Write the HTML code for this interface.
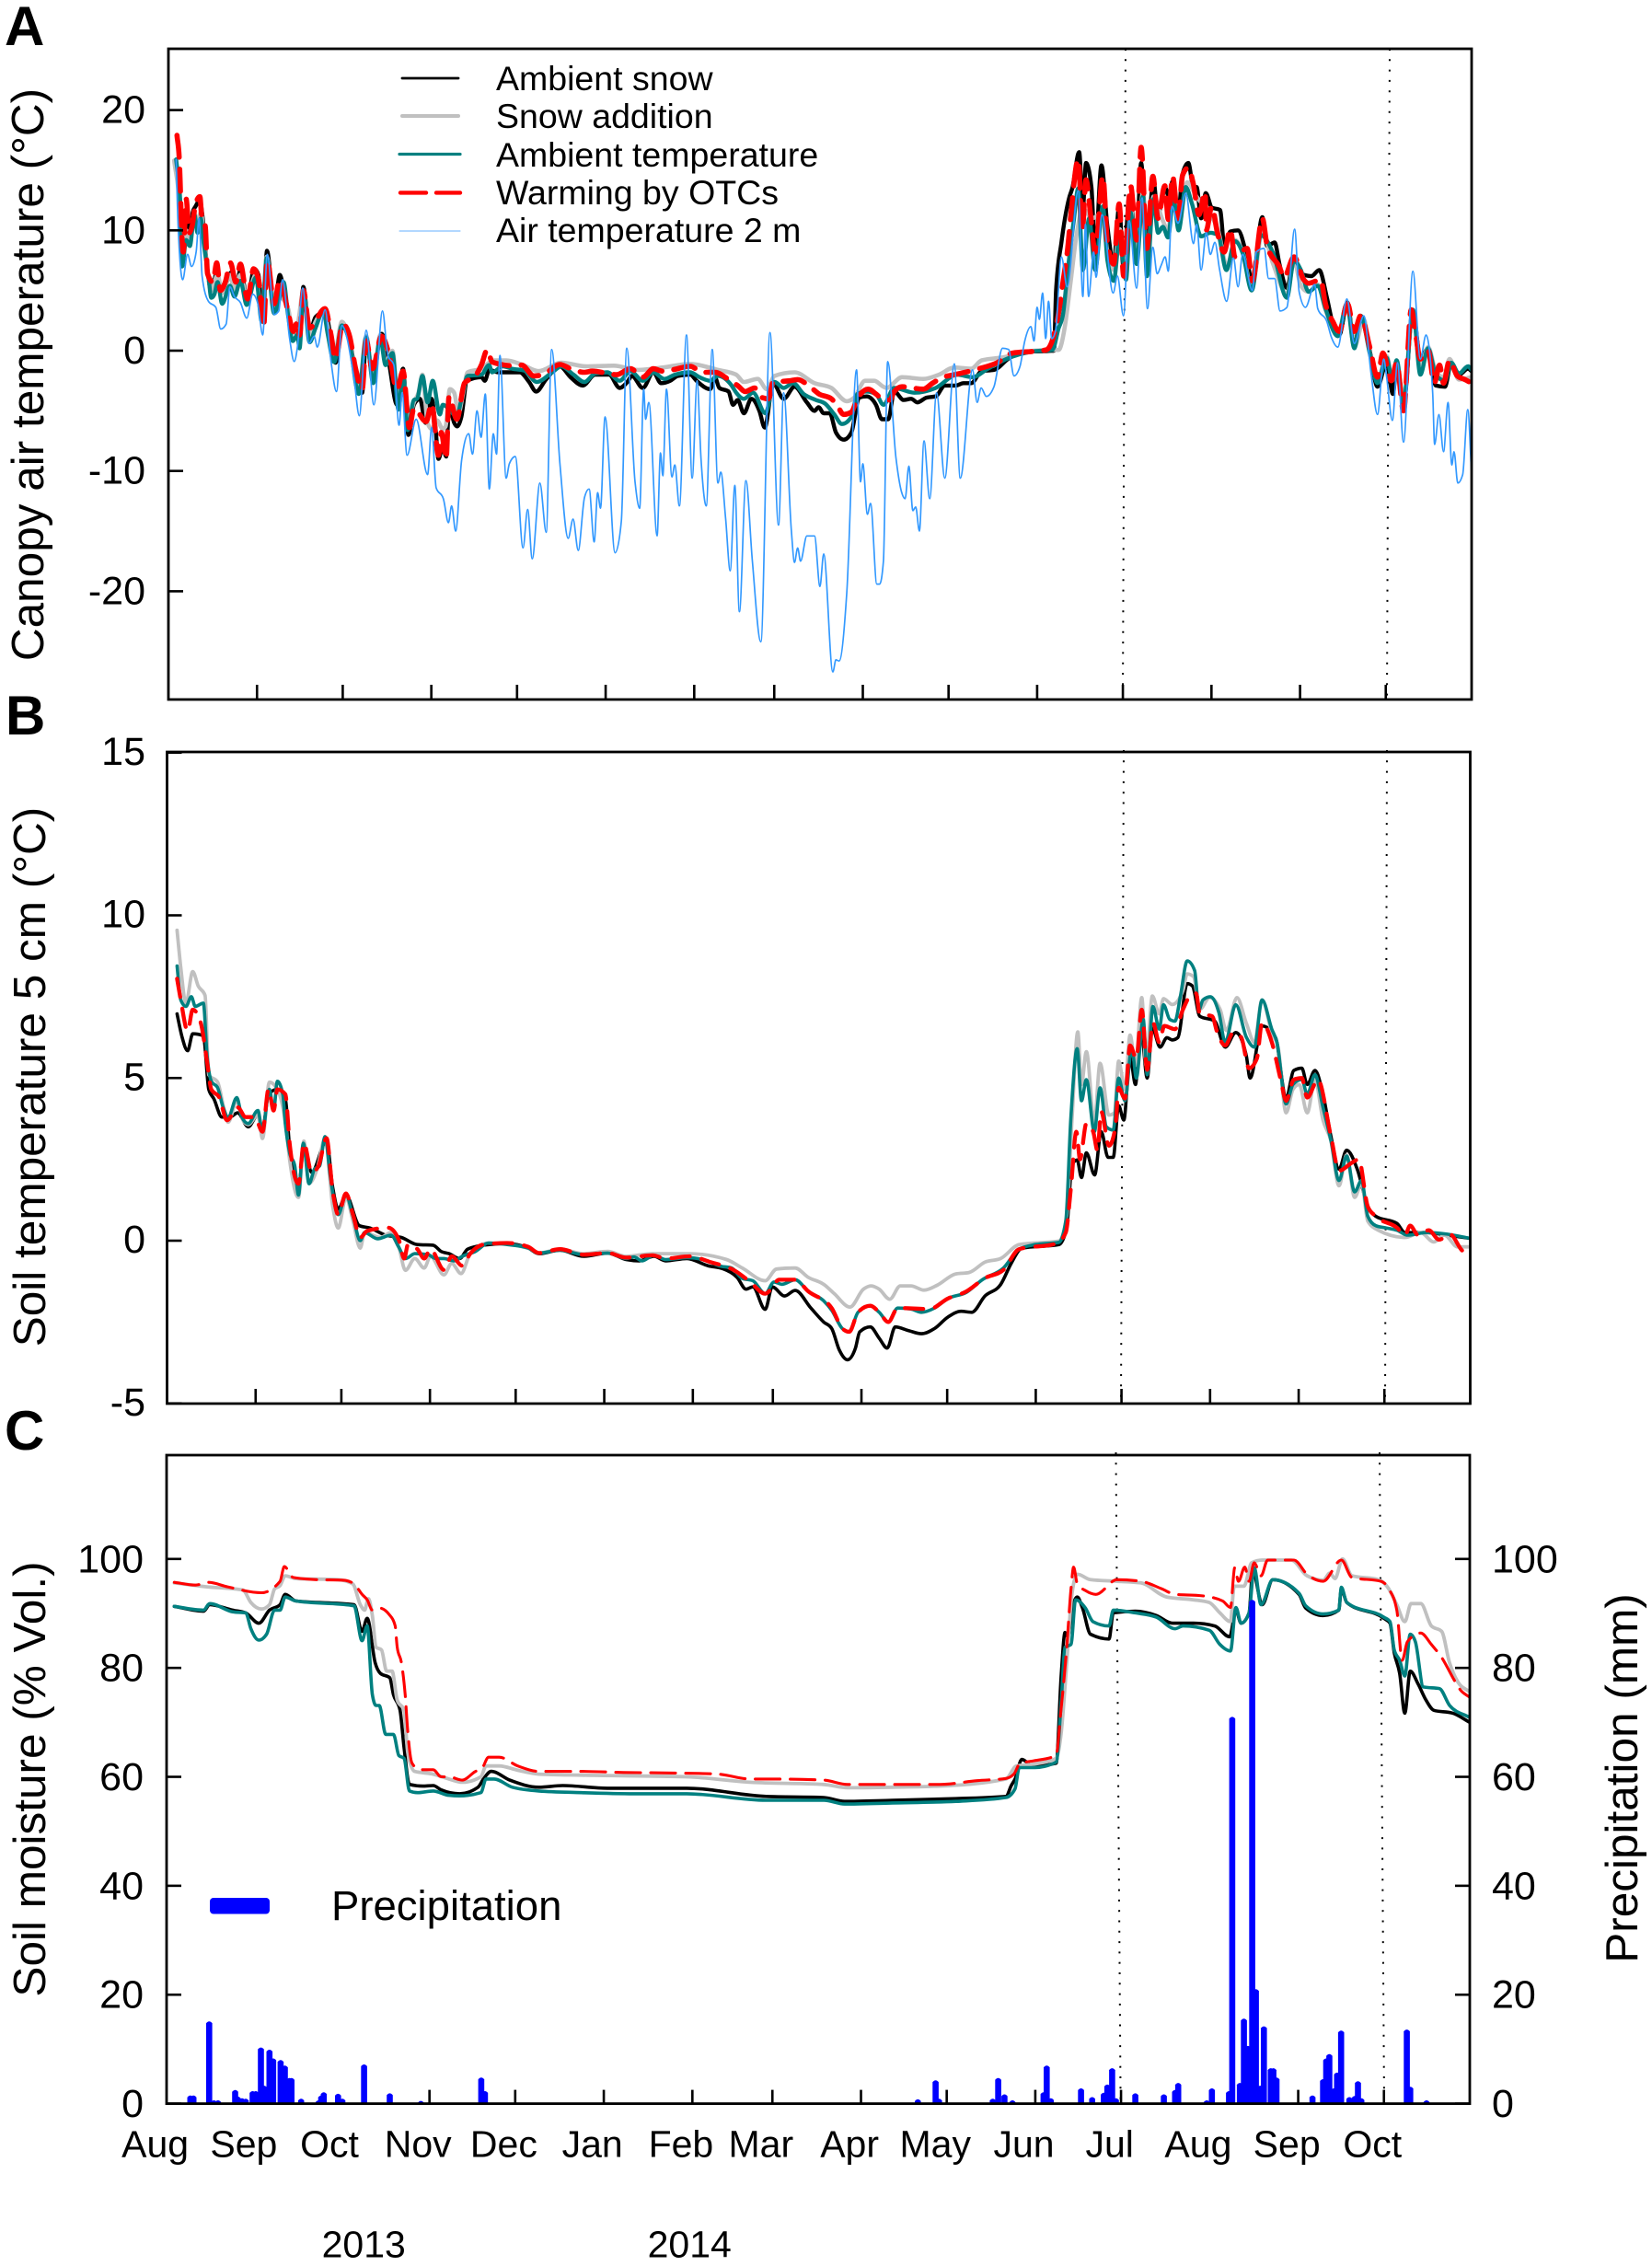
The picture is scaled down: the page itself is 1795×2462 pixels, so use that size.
<!DOCTYPE html>
<html lang="en">
<head>
<meta charset="utf-8">
<title>Canopy air temperature, soil temperature and soil moisture</title>
<style>
html,body{margin:0;padding:0;background:#fff}
svg{display:block}
text{font-family:"Liberation Sans",Arial,sans-serif;fill:#000}
</style>
</head>
<body>
<svg id="chart" xmlns="http://www.w3.org/2000/svg" width="1795" height="2462" viewBox="0 0 1795 2462"></svg>
<script>
/* ---------- shared axis data ---------- */
const monthNames=["Aug","Sep","Oct","Nov","Dec","Jan","Feb","Mar","Apr","May","Jun","Jul","Aug","Sep","Oct"];
const monthDays=[0,31,61,92,122,153,184,212,243,273,304,334,365,396,426];
const tickDays=[31,61,92,122,153,184,212,243,273,304,334,365,396,426];
const tickDaysC=[92,122,153,184,212,243,273,304,334,396,426];
const yearLabels=["2013","2014"];
const yearDays=[69,183];
const ticksA=[20,10,0,-10,-20];
const ticksB=[15,10,5,0,-5];
const ticksC=[100,80,60,40,20,0];

/* ---------- Panel A: canopy air temperature ---------- */
const airDaysA=[2.7,3.4,5,6.7,8.1,9.7,10.7,11.8,14,16.6,
18.3,20.2,21.5,23.1,25.2,27.4,29.5,31.3,33,34.6,
37,38.6,39.9,42.4,44,45.1,47,49.2,51,52.1,
54.8,56.9,58.8,60.7,64.9,66.8,69.2,71.9,74.9,76.8,
78.9,80.7,81.8,83.5,86.7,90.7,92.1,93.7,96.2,98,
99.1,100.5,102.6,105.1,106.4,108,109.4,110.9,112.3,113.7,
114.8,116,118.2,119.3,121.4,124.1,125.7,127.3,130,132.2,
134.1,137,139.9,141.6,143.4,145.6,147.2,149,150.2,151.2,
152.8,156.3,158.5,160.4,163.3,164.9,166.3,167,168.1,171,
172.2,173,174.3,176.2,177.2,178.8,181.3,183.3,185,186.4,
188.2,190.3,192.3,193.3,195,196.6,198.2,199.8,202.1,204.3,
207.3,210.5,213.5,215.3,218,219.1,220.2,221.2,223.4,226.1,
228,229.3,232.5,233.6,234.7,237.4,240.8,242.2,243,244.6,
245.7,247.9,248.9,250.2,251.7,254.6,256.5,257.8,259.1,260.5,
261.5,262.8,264.4,266.4,268.8,271.7,275,277.1,281.4,283,
284.4,286.2,288.9,291.9,294,295.9,298,299.7,301.8,302.9,
304,304.8,305.9,307,308,309.1,310.4,312.5,314.5,318.4,
320,320.9,322,323.8,324.6,326.7,330.6,332.1,334.2,336.2,
338.8,340.7,342.6,344.5,346,347.4,348.8,349.9,351.2,353.3,
356,358.7,359.8,361.4,363.2,364.6,366.2,367.8,370.3,372.7,
374.3,375.9,379.3,380.7,383.4,385,387.1,389,391.4,394.1,
395.7,397.9,401.1,402.2,405.4,407,409.2,412.4,415,418.3,
420.9,423.1,425.3,426.3,428.3,430.1,432.2,435.5,438.1,440.1,
442.4,443.1,444.6,446.2,447.8,449.1,449.9,451.2,452.9,454.7,456];
const airValsA=[15.9,10.3,5.9,8,7,8.2,11,6.2,4.1,3.6,
1.8,2.2,5.3,4.5,4,2.7,4.7,3.9,1.3,8,
3,3.3,5.9,1,-.9,.2,5.2,.6,1.2,.3,
3.4,-.9,-3.4,2.1,-2.2,-5.4,1.7,-4.5,3.3,-.4,
-1.2,-6.2,-3.5,-8.7,-5.7,-10.3,-6.4,-11.4,-12.3,-14.3,
-12.9,-15,-9.1,-6.9,-8.6,-5,-7.2,-3.6,-11.5,-6.9,
-8.6,-.4,-10.6,-9.4,-8.8,-16.4,-13.2,-17.3,-11,-15.1,
.1,-9.4,-15.6,-14,-16.6,-12.2,-11.5,-15.9,-11.8,-13.1,
-5.5,-16.8,-14.2,.2,-10.9,-13.1,-3.2,-5.7,-4.3,-15.4,
-8.5,-10.4,-3.2,-10.5,-9.5,-12.9,1.3,-10.6,-2.5,-9.1,
-12.9,.1,-11,-10.1,-14,-18.3,-11.2,-21.7,-10.8,-17.4,
-24.2,1.5,-14.5,-3.5,-15,-17.6,-16.4,-17.5,-15.4,-15.4,
-19.6,-16.9,-26.7,-25.7,-25.8,-20.1,-1.6,-10.9,-9.4,-13.6,
-12.7,-19.4,-19.4,-17.5,-.9,-8.9,-11.7,-12.3,-9.6,-13.3,
-13,-15,-7.5,-12.3,-3.5,-10.6,-1.1,-10.6,-1.6,-4.3,
-3.1,-3.8,-3,.2,.1,-2.1,-1.3,.84,2,.8,
3.6,2.6,4.8,1,4.1,1,1.6,7.8,5.3,13.3,
4.5,10.5,4.5,8.2,6.1,11.3,4.8,6.2,2.9,10.8,
5.2,12.7,3.5,8.6,6.4,7.1,7.8,6.6,12,10.6,
13.1,8.9,10.5,6.7,9.8,8,9,6.8,4.1,7.7,
5.3,8,5,8.2,8.5,6,6,3.3,3.6,10.1,
4.9,3.6,5.5,3.5,2.4,1.1,.3,4.3,.6,2.9,
-2,-5.3,-.7,-2.2,-5.8,-1,-7.6,6.6,-.7,1.3,
-3.5,-7.8,-5.3,-8.4,-4.3,-9.5,-8.4,-11,-10.3,-4.9,-10.1];

const tealDaysA=[2.7,4.1,4.8,6.2,7.5,9.1,10.2,11.3,12.3,14,
15,16.1,17.2,18.8,21.5,23.1,25.2,27.4,30.6,32.7,
34.4,37,38.6,40.3,41.9,43.5,45.1,45.9,47.2,49.4,
51.5,54.2,55.8,58,60.7,63.3,66.6,69.2,71.7,74.1,
76,78.4,80.5,82.1,83.7,85.9,87,88.9,90.7,92.5,
95,96,100.9,103,104.7,109.5,112.2,113.3,117,120.3,
124.6,128.9,134.3,137.5,141.8,145.6,149.3,153.6,157.9,161.7,
166,169.7,173.5,177.2,182.6,185.8,189.6,192.3,197.1,198.7,
201.4,204.6,208.9,212.1,215.3,218.6,222.3,226.6,229.8,233,
235.7,239,241.1,244.3,247.6,250.2,254,261,268.5,276,
281.4,286.8,293.2,302.9,309.3,311.5,313.1,314.5,316.8,318.4,
320,322.2,324.3,327,328.6,330.8,332.9,335.1,336.7,338.8,
341,342.4,344.7,346.3,348,349.8,351.7,353.5,356,358.2,
361.4,364.6,367.3,370.2,373.2,375.9,379.1,382.3,386.6,391.4,
393.9,396.3,399,402.2,404.9,409.2,412.4,415,417.2,420.4,
423.1,426.3,428.3,429.8,432.2,435.5,438.1,440.8,443.5,446.7,
448.9,451.6,454.8,456];
const tealValsA=[15.9,12.6,7,9.2,8.7,11.3,9.8,11,9,6.2,
4.4,4.7,5.7,3.9,5.4,4.5,5.8,3.8,6.1,2.4,
7.7,3.1,4.1,5.7,2.9,.8,1.3,.2,4.9,.7,
1.9,3.3,1.3,-.95,2.1,.8,-3.6,1.1,-2.7,1.1,
-1.2,-.2,-4.9,-1.7,-6.6,-4.1,-4,-2.1,-4.3,-2.5,
-5.3,-4.5,-5.4,-3.5,-2.1,-2,-1.2,-1.8,-1.3,-1.5,
-1.66,-2.6,-1.8,-1.3,-2,-2.6,-1.9,-1.8,-2.5,-1.7,
-2.5,-1.8,-2.35,-2,-1.8,-2.2,-2.5,-2.1,-2.9,-3.5,
-4,-3.5,-5.2,-2.6,-3.1,-2.7,-3.6,-4.1,-4.4,-5.3,
-6.1,-5.5,-3.6,-3.4,-3.6,-4.5,-3.1,-3.5,-3.1,-2,
-2.2,-1.5,-.7,-.05,.06,1.85,3.1,6.2,10.8,13.5,
6.7,11,6.7,12,7.5,5.8,9.5,5.9,11.5,7.2,
12.8,6.2,12.6,9.8,10.3,9.4,12.7,10,13.6,12.2,
9.5,9.8,9.6,6.7,9.1,8.1,5,9.6,8.1,4.4,
7.5,6.7,4.9,5.4,3.5,1.2,3.9,.2,2.9,-.2,
-2.7,-.6,-2.5,-.8,-4.3,3.4,-2,.2,-2,-2.5,
-1,-1.9,-1.3,-1.6];

const redDaysA=[3,3.8,4.1,4.5,5.2,6.2,7.3,8.4,9.4,11,
11.6,12.9,13.7,15.6,16.9,18.2,19.9,21.7,23.6,25.2,
27.7,29.8,31.7,33.3,34.6,37,38.9,39.9,41.7,43.8,
45.1,45.9,47.2,49.4,54.8,56.9,58.5,61,63.3,65.5,
67.8,69.2,71.4,74.6,77.3,80,82.1,84.3,85.9,90.2,
92.1,94.5,95.5,97.2,98.2,100.9,103.6,107.4,109.5,111.6,
113.3,120.3,123.6,127.9,131.1,137,140.7,145.6,148.3,156.8,
161.7,166,169.7,172.9,176.2,182.6,186.9,191.2,196.6,199.2,
201.9,205.1,207.8,210,211.6,217.5,220.2,224.5,227.7,232,
234.1,236.3,239,241.1,244.9,247.6,249.7,252.4,254,256.7,
264.2,267.4,271.2,275,283.6,290,295.4,302.9,307.2,309.3,
312,313.1,314.7,315.8,318.4,319.8,321.1,322.7,324.3,327,
328.6,330.8,332.7,334.3,336.7,338.8,340.4,342.4,344.5,346.3,
348.7,349.9,351.4,353.3,354.9,356.9,358.7,360.6,362.8,363.2,
365.1,367.1,369.4,371.6,373.2,377.5,379.3,382.8,384.5,388.8,
390.4,393.9,397.3,399,403.2,404.9,407.5,409.7,412.6,415,
417.2,420.4,423.1,425,428,429.8,432.2,434.9,436.5,438.1,
440.8,443,444.8,446.2,448.3,451,453.7,456];
const redValsA=[17.9,15.9,14.1,10.8,8.2,12.6,9.8,10.5,12.1,12.8,
11.3,10.3,6.4,5.7,7.3,5,5.7,7.3,5.7,7.2,
4.3,6.8,5.7,2,7.5,3.9,5.9,5.3,3.4,1.6,
2.4,1.3,5,1.9,3.5,1.3,-.7,2.2,1.3,-1.5,
-3.25,.8,-1.5,1.2,-.4,-3.25,-1.7,-6.4,-4.8,-5.9,
-4.4,-8.7,-6.8,-9,-3.8,-5.7,-2.7,-2.1,-1.2,.07,
-.95,-1.25,-1.2,-2.1,-2,-1.15,-1.5,-1.8,-1.7,-2,
-1.5,-2.2,-1.5,-1.7,-1.6,-1.3,-1.8,-1.8,-2.5,-2.9,
-3.4,-3.1,-3.9,-4,-2.6,-2.5,-2.4,-3,-3.6,-4,
-4.6,-5.3,-5.1,-4,-3.2,-3.6,-4,-4.1,-3.4,-3,
-3.2,-2.7,-2.2,-2,-1.5,-1,-.2,-.05,.07,.84,
3.9,5.8,8.5,11.3,15.9,10,14.2,11.3,8.2,14.5,
9,7.2,12.2,6.2,13.7,9.2,16.9,8.5,14.5,11,
13.7,10.9,14.5,11,14.6,15.2,13.8,11.3,13.2,10,
12,9.8,8.2,10.1,7.8,8.5,5.8,11,8.7,6.95,
6.1,7.8,5.9,5.6,5.9,3.9,2.4,1.6,3.9,1.6,
2.9,.3,-2.2,-.2,-2.5,-1,-5,3.4,1.3,-.7,
0,-2.7,-1.2,-2.7,-.8,-2.1,-2.4,-2.7];

const blackDaysA=[2.7,4.5,5,6.2,7.5,8.5,9.5,11,12,13.5,
15,17,18.5,20,22,24,25.2,27.7,30,31.5,
33,34.5,37,39,40,41.7,43.8,45,46,47.2,
49.4,51.5,54.8,56.9,58.5,61,63.3,66,67.8,69.2,
71.4,74.6,77,80,82.1,84,85.9,88,90,92.1,
93.5,94.5,96,97.2,98.2,100,101,102.5,104.5,109.6,
110.7,112.3,115.5,123,126.2,128.7,132.1,137,140.7,145,
149.3,154.2,157.9,160.6,162.2,166,169.7,172.4,175.6,178.3,
182.6,184.8,189.6,191.2,192.8,196,197.6,199.2,201.4,204,
206.8,208.7,211.6,215.3,219.1,223.4,226.1,227.5,229.3,231.4,
233.6,236.3,239,241.7,244.3,247.6,249.7,251.9,254,257.3,
259.9,262.1,265.3,268.5,271.7,275.5,278.2,280.9,284.6,288.9,
294.3,299.7,309.9,310.6,312.5,315.2,316.3,318.7,320,321.1,
323,324.3,326.5,328.6,330.8,332.7,334.3,336.2,338.8,340.4,
342.4,344.7,346.3,348.7,350.1,351.4,353.3,354.9,356.9,358.7,
359.8,361.4,363,365.1,368,369.6,371.6,374.3,377,379.3,
382.8,384.5,387.1,388.8,391.4,393.9,396.3,400,402.7,405.4,
407.5,409.7,412.6,415,417.2,420.4,423.1,426.3,428.5,429.8,
432.2,435.5,438.1,440.8,443.5,446.7,448.9,451.6,454.8,456];
const blackValsA=[15,11,7.5,11,9.5,11.5,12,12.5,11,7,
5,6.5,5,5.5,6.5,5.5,6.8,4.2,6.8,6.3,
2.5,8.3,3.5,6.3,5.5,3.5,1.5,2.3,1,5.3,
1.5,2.8,3.2,1,-1,2.2,1,-2.5,-3.5,1.2,
-2,1.4,-.8,-4.5,-1.5,-7,-4.5,-4,-6,-4,
-6.5,-9,-8,-8.8,-4.5,-6,-6.3,-5.5,-2.5,-2.2,
-2.5,-1.6,-1.8,-1.8,-2.6,-3.4,-2.4,-1.3,-2.2,-2.9,
-2,-2,-3.1,-2.6,-2.1,-3.1,-1.8,-2.7,-2.5,-2.1,
-2,-2.5,-3.2,-2.2,-3.1,-3.4,-4.5,-4.1,-5.2,-4,
-5,-6.4,-2.7,-4,-3,-4.3,-5,-4.7,-5.2,-5.2,
-6.8,-7.4,-6.8,-3.9,-3.8,-4.5,-5.7,-5.7,-3.4,-4.1,
-4,-4.3,-3.9,-3.8,-2.9,-2.9,-2.7,-2.7,-1.7,-1.6,
-.6,-.1,0,4.9,9,12.7,13.5,16.5,11.8,15.6,
13.6,8,15.4,10.3,7.2,12,6.7,12.8,9.2,15.6,
9,14.1,11.3,13.6,12.8,14.1,11.3,14.7,15.6,13.6,
13.6,11,13.1,11.9,11.7,8.5,9.9,10,8.2,5.7,
11.1,8.7,9,7.2,5.2,7.7,6.4,6.2,6.7,4.4,
2.2,1.3,4,.3,2.9,0,-3,-1,-3.6,-1.2,
-4.5,3.4,-.7,.2,-2.9,-3,-1,-2,-1.5,-1.7];

const grayDaysA=[2,4,5,6.2,7.5,9,10.2,11.3,13,15,
17.2,18.8,21.5,23.1,25.2,27.4,30.6,32.7,34.4,37,
38.6,41.9,43.5,45.1,47.2,49.4,51.5,54.2,58,60.7,
63.3,66.6,69.2,71.7,74.1,76,78.4,80.5,82.1,83.7,
85.9,87.5,88.9,90.7,92.1,94,96,97,98.5,100,
101.5,103,104.7,109.5,113.9,118.2,123.6,129.5,137.5,146.1,
155.8,164.4,172.9,182.6,192.3,198.7,201.4,206.2,209.4,212.1,
219.1,226.1,232,237.4,240,243.8,247,250.2,251.3,256.7,
264.2,269.6,275,280.9,284.6,292.1,302.9,310.4,311.5,313.6,
315.8,317.9,320,323.3,326.5,328.6,330.8,332.9,335.1,336.7,
338.8,341,342.4,344.7,348,349.8,351.7,353.5,356.5,359.8,
363,367.3,370.5,373.2,375.9,379.1,382.8,386.6,391.4,393.9,
396.3,399,402.2,404.9,409.2,412.4,415,418.3,420.4,423.1,
426.3,428.3,429.8,432.2,435.5,438.1,440.8,443.5,446.2,448.3,
451.6,456];
const grayValsA=[15.8,12,7.5,10,9,11.5,10.5,11.5,8,5,
6.3,4.8,6.3,5,6.3,4.5,6.3,2.8,7.8,3.5,
4.5,3.5,1.5,2,4.9,1.2,2.4,3.3,-.5,2.4,
.9,-3.4,1.2,-2.5,1.3,-1,0,-4.5,-1.7,-6,
-4.3,-3.5,-2,-6,-6.5,-5.8,-6.5,-6.3,-3.2,-3.5,
-5.2,-3.7,-1.8,-1.5,-.8,-.8,-1.15,-1.7,-1,-1.3,
-1.25,-1.6,-1.4,-1.1,-1.6,-2,-2.6,-2.35,-3.2,-2.1,
-1.8,-2.7,-3.1,-4.2,-3.9,-2.5,-2.5,-3,-3.1,-2.2,
-2.35,-2,-1.4,-1.5,-.8,-.56,0,.07,.06,1.85,
5.9,9.8,11.8,11,11.4,8.2,6.7,10.1,6.2,11.8,
7.7,13.1,6.7,12.8,10.8,10,13,10.3,14,12.8,
11.8,10,7,9.2,8.2,5.2,9.8,7.2,4.7,7.5,
5.4,4.9,5.5,3.4,1.3,3.9,.3,2.6,-.2,-2.5,
-.45,-2.2,-.8,-4,3.4,-1.5,.3,-1.7,-2.2,-.7,
-2.4,-2.2];

/* ---------- Panel B: soil temperature 5 cm ---------- */
const blackDaysB=[3.5,5.3,7.2,9,12.7,14.6,16.4,19.2,22,24.7,
28.4,31.8,33.4,35.5,38.6,41.4,42.9,46,47.9,50.6,
55.8,58,59.9,62.6,67.3,71,76.5,82,87.6,93.1,
95.9,98.7,102.4,105.2,110.7,119,126.4,130.1,137.5,145.8,
154.2,160.6,165.2,170.4,174.5,181.9,189.3,194.8,199.5,202.6,
205,209.3,211.8,216.1,219.8,225.3,229.8,232.6,235.3,238.1,
240.9,242.4,246.1,249.2,252,254.8,259.4,264,268.6,273.2,
277.9,281.6,286.2,291.7,295.4,299.1,312.1,314.8,316.7,318.5,
320,321.7,324.6,326.9,329.3,331.1,333,334.8,337,338.9,
340.7,343,344.8,347.5,349.9,351.8,353.7,357,358.8,361.4,
366.6,370.3,374,377.7,379,383.2,387.9,391.6,394.3,397.1,
399,401.7,404.5,407.3,410.1,412.8,416.5,420.2,423,430.4,
433.2,440.6,448,456];
const blackValsB=[6.97,6.24,5.84,6.36,6.3,4.65,4.36,3.8,3.8,3.93,
3.5,3.86,3.42,4.5,4.65,4.36,2.85,1.62,2.92,2.1,
3.06,1.62,.97,1.4,.46,.39,.17,.1,-.12,-.14,
-.33,-.4,-.55,-.26,-.14,-.09,-.23,-.4,-.29,-.48,
-.38,-.58,-.62,-.48,-.62,-.55,-.77,-.87,-1.13,-1.49,
-1.42,-2.11,-1.42,-1.7,-1.53,-2.07,-2.5,-2.7,-3.37,-3.66,
-3.3,-2.8,-2.65,-3,-3.3,-2.65,-2.76,-2.86,-2.7,-2.35,
-2.17,-2.2,-1.7,-1.35,-.7,-.23,-.12,.39,2.34,2.48,
1.94,2.7,2.02,3.35,2.56,2.56,4.15,3.71,5.66,4.8,
6.68,5,6.53,5.95,6.24,6.17,6.24,7.9,7.83,6.9,
6.75,5.95,6.4,5.67,5,6.6,6.24,4.37,5.23,5.3,
4.8,5.23,4.5,3.2,2.2,2.78,2.2,1.05,.75,.53,
.25,.25,.17,.07];

const grayDaysB=[3.5,4.8,6.6,9,10.9,13.3,14.6,17.7,20.1,21.4,
24.4,26.6,28.4,31.8,33.4,35.8,38.6,41.4,42.9,46,
47.9,49.7,52.5,55.3,58,59.9,62.6,65.1,67.6,69.1,
74.7,78.4,81.1,83.4,86.7,90,92.2,96.9,99.6,102.9,
106.1,112.6,126.4,130.1,137.5,145.8,154.2,160.6,169.9,182.8,
195.8,201.3,209.3,213.3,219.8,224.4,229.8,233.5,239,243.7,
246.4,249.2,252.9,256.6,260.3,264.9,269.5,276,280.6,286.2,
291.7,298.2,312.1,314.8,316.7,318.7,320,321.7,324.5,326.5,
329.6,331.5,333,335.2,337,338.9,341.1,342.6,344.8,347.2,
348.7,351.8,355.5,357,359.2,361.4,364.8,368.5,370.7,374.4,
377.7,380.5,383.2,386.6,388.8,391.6,394,396.2,399,401.7,
404.5,407.3,410.1,412.8,415.6,418,420.2,423.9,433.2,438.7,
443.3,447,451.6,456];
const grayValsB=[9.54,8.4,7.3,8.27,7.83,7.54,5.1,4.87,4,3.64,
4.3,3.7,3.57,3.86,3.14,4.87,4.65,3.64,2.49,1.33,
3.06,1.76,2.2,3.14,1.04,.39,1.33,.6,-.23,.25,
.1,.25,-.19,-.91,-.55,-.84,-.48,-1.05,-.7,-1.01,
-.4,-.07,-.23,-.38,-.26,-.4,-.33,-.48,-.4,-.4,
-.58,-.84,-1.23,-.87,-.84,-1.13,-1.34,-1.63,-2.04,-1.49,
-1.39,-1.49,-1.8,-1.39,-1.39,-1.52,-1.37,-1.02,-.98,-.66,
-.55,-.12,-.01,.75,3.79,6.42,4.8,5.81,3.64,5.45,
3.86,3.93,5.52,4.65,6.32,5.38,7.47,5.38,7.52,6.97,
7.44,7.26,7.69,8.2,8.12,7.11,7.47,7.11,6.46,7.47,
6.68,6.1,7.4,6.39,5.95,3.93,4.65,4.8,3.93,4.95,
3.71,3.06,1.69,2.63,1.33,1.76,.6,.32,.1,.25,
-.04,.17,-.19,-.19];

const tealDaysB=[3.5,4.8,6.6,8.5,9.9,12.7,14,15.5,17.7,19.6,
21.4,24.4,26.2,28.4,31.8,33.4,35.8,37.3,38.6,40.5,
41.4,42.9,44.7,46,47.7,49.7,51.6,53.4,55.3,57.1,
59.9,62.6,65.1,67.6,69.1,73.7,78.4,81.1,83.5,86.7,
91.3,94.1,96.9,100.5,103.3,107.9,112.6,119,126.4,130.1,
137.5,145.8,154.2,160.6,163.4,166.2,170.4,174.5,181.9,190.2,
193,197.6,201.3,205,209.3,212.4,215.2,219.8,224.4,229.8,
232.6,236.3,238.7,241.8,246.1,249.2,252.4,255.7,260.3,264,
268.6,273.2,279.7,285.3,292.7,298.2,303.8,312.1,314.5,316.3,
318.5,320,321.7,324.5,326.5,328.7,331.1,333,335.2,337.6,
339.2,341.6,343,345,347.2,348.7,350.9,352.7,354.6,357,
359.6,361.1,362.5,365.1,368.1,370.3,374,377.7,380.5,383.2,
386.6,388.4,391.6,394,397.1,399,401.7,404.5,407.3,410.1,
412.8,415.6,418,420.2,423,426.7,430.4,434.1,440.6,448,456];
const tealValsB=[8.44,7.4,7.2,7.5,7.2,7.3,5.7,4.9,4.7,4.1,
3.8,4.4,3.8,3.6,4,3.35,4.65,4,4.9,4.5,
3.6,2.7,2.3,1.4,3,1.75,2.2,2.3,3.2,2,
.8,1.4,.75,0,.25,.06,.17,-.2,-.55,-.4,
-.43,-.55,-.55,-.62,-.48,-.33,-.07,-.12,-.23,-.38,
-.29,-.43,-.38,-.55,-.5,-.62,-.45,-.58,-.52,-.66,
-.77,-.84,-1.16,-1.23,-1.63,-1.27,-1.34,-1.2,-1.56,-1.85,
-2.14,-2.7,-2.8,-2.2,-2,-2.2,-2.5,-2.07,-2.1,-2.2,
-2.07,-1.78,-1.59,-1.2,-.84,-.26,-.12,-.05,.6,3.8,
5.9,4.3,4.95,3.35,4.7,3.5,3.4,5,4.3,5.95,
5,6.8,5.1,7.2,6.5,7.25,6.8,6.75,7.5,8.6,
8.3,7.1,7.4,7.5,7,6.1,7.25,6.25,5.95,7.4,
6.5,6.1,4.2,4.8,4.95,4.5,5.1,4.1,3.07,1.85,
2.6,1.5,1.85,.75,.46,.39,.32,.17,.25,.2,.07];

const redDaysB=[3.5,4.8,7.2,9,11.8,14,15.5,18.3,21,24.7,
27.5,30.7,33.4,35.5,37.3,38.6,41.4,42.9,46,47.9,
50.6,53,55.8,58,59.9,62.6,65.1,67.6,70,77.4,
81.1,83,84.3,87.6,90,92.2,96.9,99.6,103.3,106.1,
110.7,119,126.4,130.1,137.5,145.8,154.2,160.6,169.9,174.5,
182.8,190.2,198.5,204.1,209.3,214.3,219.8,224.4,232.6,236.3,
238.7,241.8,246.1,249.2,252.4,255.7,266.8,273.2,279.7,286.2,
292.7,298.2,311.1,314.5,316.3,318.2,319.5,321.7,324.1,325.6,
326.9,329.6,331.9,333,335.2,337,339.2,341.1,343,345,
347.2,349,352.7,355.5,358.3,360.1,361.4,365.7,367.5,370.3,
373.1,375.9,378.6,381.4,383.2,386.6,389.7,391.6,394.3,397.1,
399,402.7,407.3,410.1,414.7,417,420.2,423,430.4,433.2,
435,437.8,441.5,445.2,448.9,453.9,456];
const redValsB=[8.05,7.4,6.45,7.1,6.7,5.5,4.65,4.4,3.7,4.1,
3.8,3.8,3.35,4.65,4,4.65,4.5,3,1.75,3,
2.1,2.3,3.15,1.5,.8,1.45,.8,.1,.3,.4,
.03,-.55,-.12,-.26,-.55,-.26,-.9,-.48,-.77,-.4,
-.12,-.07,-.19,-.38,-.26,-.43,-.38,-.52,-.45,-.55,
-.48,-.66,-.91,-1.27,-1.63,-1.2,-1.2,-1.56,-2.07,-2.7,
-2.8,-2.2,-2,-2.2,-2.5,-2.07,-2.1,-1.78,-1.56,-1.15,
-.9,-.26,-.09,.25,1.62,3.35,2.5,3.6,3.35,2.77,
3.97,2.92,3.5,4.7,4.37,6,5.6,7.1,5.25,6.7,
6.1,6.6,6.5,7.1,7.55,7.6,6.97,6.9,6.4,6,
6.4,6.25,5.3,5.6,6.7,6.1,4.95,4.3,4.95,5,
4.4,4.95,3.2,2.15,2.4,2.5,1.05,.75,.4,.17,
.46,.17,.32,.03,.2,-.33,-.23];

/* ---------- Panel C: soil moisture and precipitation ---------- */
const blackDaysC=[2.7,12.9,15.1,23.1,27.7,32.3,36,39.7,41.5,45.2,
65.6,68.4,70.2,73,74.8,78.1,79.4,81.7,83.1,85,
89.6,93.3,96.1,102.5,109,110.9,113.6,120.1,130.3,138.6,
154.3,182,209.8,230,237.3,254,276.2,293.7,295.6,296.9,
299.3,303,311.3,313.1,314.4,315.4,316.8,318.7,320.5,323.3,
329.8,331.3,339,346.4,352,359.4,366.8,372,374.2,376,
378.8,380.1,383.4,387.1,396.3,398.6,404.7,410.2,411.1,413,
426,428.1,429.6,431.5,433.3,435.2,438,440.7,443.5,450,456];
const blackValsC=[91.3,90.4,91.6,90.6,90.1,88.2,90.6,91.6,93.5,92.3,
91.6,86.7,89.1,80.9,79,78.2,75.1,72.2,65.4,58.6,
58.3,58.4,57.6,56.9,58.1,59.6,61,59.4,58.1,58.4,
57.9,57.9,56.4,56.2,55.5,55.7,56,56.4,58.4,59.6,
63.2,62,62.5,79,86.5,85.7,90.6,93,91,86.2,
85.3,90.1,90.4,89.6,88.2,88.2,87.7,85.7,90.6,88.2,
90.1,97.9,91.6,96.2,93.5,91,89.6,90.6,94.5,92,
89.1,88.2,82.8,79,71.7,79.4,77,74.1,72.2,71.7,70];

const grayDaysC=[2.7,13.8,26.7,29.5,33.2,36,37.8,39.7,41.5,45.2,
60,65.2,67.8,69.3,70.6,72,73.3,75.2,77,78.9,
80.7,83.1,84.4,86.8,93.3,98.8,103.5,110,111.8,116.4,
122.9,130.3,145.1,182,204.2,230,238.3,254,270.6,293.7,
297.4,303,311.3,313.1,315,316.8,318.7,323.3,332.6,340.9,
350.1,359.4,364.9,368.6,372.3,373.6,377,379.7,383.4,393.6,
399.1,404.7,407.1,408.9,411.5,414.8,424.1,427.7,430.5,433.3,
435.5,438.9,442.6,446.2,449,451.8,456];
const grayValsC=[95.6,94.9,94.3,92,90.8,91.6,94.5,95.1,96.9,96.4,
96.2,95.4,91.6,90.6,92.7,89.6,83.8,83.3,79.4,79.4,
74.1,72.2,64.4,61,60.5,59.6,59,60,62,62,
61.2,60.5,60.3,60,59,58.6,58,58.1,58.3,59.6,
62,62.3,63.4,68.3,80.9,93.5,97.2,96.2,95.9,95.6,
93,92.5,92,90.1,88.5,95,95,99.3,99.8,99.8,
96.9,96.1,97.4,96.4,100,96.9,96.2,94.5,91.6,88.5,
91.8,91.8,87.7,86.7,80.9,77.5,75.6];

const tealDaysC=[2.7,12.9,15.1,23.1,27.7,29.5,32.3,35,37.8,39.7,
41.5,45.2,65.6,68.4,70.2,72,73.3,74.4,76.7,79.4,
81.3,83.1,85,87.8,93.3,98.8,102.5,110,111.8,114.6,
121,130.3,145.1,163.5,182,209.8,230,237.3,254,276.2,
293.7,296.9,298.4,303.9,311.3,313.1,314.4,316.5,318.1,321.5,
324.2,329.8,331.3,339,346.4,352.9,355.7,364.9,368.6,372.3,
374.2,376,378.8,380.6,383,387.1,396.3,398.6,404.7,410.2,
411.1,413,426,428.1,429.6,431.5,433.3,435.2,437,439.8,
445.4,449,456];
const tealValsC=[91.3,90.6,91.8,90.3,90.1,87.2,85.1,86.2,90.6,90.6,
93,92.3,91.4,85,87.7,75.1,73.1,73.1,67.8,67.8,
63.9,63.4,57.4,57.1,57.4,56.6,56.5,57.1,59.6,59.6,
58.1,57.4,57.1,56.9,56.9,55.7,55.7,55,55.2,55.5,
56.2,57.8,61.7,61.7,62.7,74.1,83.8,84.3,92.5,91,
88.5,87.7,90.6,90.1,89.3,87.2,87.7,86.9,84.3,83.1,
91.1,88.2,90.1,98.4,91.6,96.2,93.7,91.4,89.9,90.6,
94.8,92,89.3,88.5,83.3,81.4,78.5,86.2,84.8,76.5,
76.2,73.1,70.9];

const redDaysC=[2.7,10.1,14.7,21.2,33.2,39.7,41.2,44.3,52.6,61.9,
65.6,68.4,70.2,72,74.4,77.9,80,80.7,82.2,83.5,
84.4,85.9,88.7,93.3,96.1,98.8,103.5,108.1,110.3,112.7,
116.4,122.9,130.3,145.1,159.9,178.3,193.1,204.2,211.6,230,
238.3,254,270.6,283.6,293.7,296.5,298.7,303,311.3,312.8,
315,316.5,317.4,318.7,321.5,325.2,332.6,340.9,348.3,352.9,
361.2,369.5,372.3,373.8,375.1,377.3,378.8,380.6,383,385.3,
394.5,399.1,404.7,411.1,414.8,425,427.7,430.5,432.4,434.2,
438.9,442.6,446.2,450.9,452.7,456];
const redValsC=[95.7,95.2,95.7,94.9,93.8,95.9,98.6,96.6,96.2,96.1,
95.4,93.5,92.5,90.6,91,89.8,87.7,83.8,80.9,75,
68.3,62.5,61.3,61.3,60,60,59.4,61,61.5,63.6,
63.6,62,61,61,60.8,60.7,60.5,59.6,59.6,59.4,
58.6,58.6,58.6,59.3,59.7,60.5,62.5,62.9,63.9,71.2,
83.8,94.5,98.5,95.4,94.2,93.5,96.2,95.9,94.5,93.5,
93.3,92.3,91.1,98.4,95.9,98.5,95.9,99.3,96.9,99.8,
99.8,97.2,95.9,99.8,96.6,95.9,94.5,90.6,81.4,84.8,
86.4,84.3,81.9,77.5,76,74.6];

const rainDays=[8.3,9.4,14.9,16.6,18,24,24.9,26.4,27.7,30.1,
31.2,33,34.1,36,37.3,39.9,41.4,43,43.7,47.1,
53.2,54.1,55,60,61.5,69.1,78.1,89,110.1,111.4,
262.9,269.1,270.3,289.1,291,293.2,296,306.9,308,309.4,
320,323.9,328,329.2,330.9,332.2,339,349,352.9,354,
364,365.8,371.8,372.9,375.6,377,378.4,379.9,381.2,382.7,
384,386.4,387.3,388.4,401,404.7,405.8,406.9,408.5,409.6,
411,413.9,415.8,416.9,418.1,434,435.2,440.9];
const rainVals=[1.5,1.5,15.1,.6,.6,2.5,1.3,1,.9,2.3,
2.3,10.3,3.3,9.9,8.3,8,7,4.7,4.7,.9,
.6,1.5,2.1,1.8,.9,7.2,1.9,.5,4.8,2.3,
.8,4.3,.9,.9,4.7,1.7,.6,2.1,7,1,
2.8,1.2,2,3.5,6.5,1,1.9,1.7,2.5,3.8,
.6,2.8,2.3,71,3.8,15.6,10.6,92.5,21,3.3,
14.2,6.5,6.5,4.8,1.5,4.5,8.3,9.1,2.8,5.7,
13.4,1.2,1.4,4.1,1,13.6,3.1,.6];

/* ---------- axis functions ---------- */
const xA=d=>183+3.105*d;
const xB=d=>181.5+3.105*d;
const xC=d=>181+3.105*d;
const yA=v=>381-13.07*v;
const yB=v=>1348-35.35*v;
const yC=v=>2285.6-5.918*v;

const svgNS="http://www.w3.org/2000/svg";
const root=document.getElementById("chart");
function mk(tag,parent,attrs){
  const e=document.createElementNS(svgNS,tag);
  for(const k in attrs){e.setAttribute(k,attrs[k]);}
  parent.appendChild(e);
  return e;
}
function label(parent,name,str,x,y,size,anchor,extra){
  const t=mk("text",parent,Object.assign({x:x,y:y,"font-size":size,"text-anchor":anchor||"start"},extra||{}));
  t.textContent=str;
  
  
  return t;
}
/* smooth monotone curve through the read values, keeps peaks at their value */
function curvePath(px,py){
  const n=px.length;
  if(n<2){return "";}
  const h=[],s=[],m=[];
  for(let i=0;i<n-1;i++){
    h[i]=Math.max(px[i+1]-px[i],.01);
    s[i]=(py[i+1]-py[i])/h[i];
  }
  for(let i=1;i<n-1;i++){
    const p=(s[i-1]*h[i]+s[i]*h[i-1])/(h[i-1]+h[i]);
    m[i]=(Math.sign(s[i-1])+Math.sign(s[i]))*Math.min(Math.abs(s[i-1]),Math.abs(s[i]),.5*Math.abs(p));
  }
  m[0]=s[0];
  m[n-1]=s[n-2];
  let d="M"+px[0].toFixed(1)+" "+py[0].toFixed(1);
  for(let i=0;i<n-1;i++){
    const t=h[i]/3;
    d+="C"+(px[i]+t).toFixed(1)+" "+(py[i]+t*m[i]).toFixed(1)+" "+(px[i+1]-t).toFixed(1)+" "+(py[i+1]-t*m[i+1]).toFixed(1)+" "+px[i+1].toFixed(1)+" "+py[i+1].toFixed(1);
  }
  return d;
}
function series(parent,name,days,vals,xf,yf,color,width,dash,clip){
  const n=Math.min(days.length,vals.length);
  const px=[],py=[];
  for(let i=0;i<n;i++){px.push(xf(days[i]));py.push(yf(vals[i]));}
  const a={d:curvePath(px,py),fill:"none",stroke:color,"stroke-width":width,"stroke-linejoin":"round","stroke-linecap":"round","clip-path":"url(#"+clip+")"};
  if(dash){a["stroke-dasharray"]=dash;}
  const p=mk("path",parent,a);
  
  
  return p;
}
function frame(parent,name,l,t,r,b){
  const f=mk("rect",parent,{x:l,y:t,width:r-l,height:b-t,fill:"none",stroke:"#000","stroke-width":2.8});
  
  
}
function clipRect(defs,id,l,t,r,b){
  const c=mk("clipPath",defs,{id:id});
  mk("rect",c,{x:l,y:t,width:r-l,height:b-t});
}
function xTicks(parent,days,xf,bottom,len){
  days.forEach(function(d){
    const l=mk("line",parent,{x1:xf(d),x2:xf(d),y1:bottom,y2:bottom-len,stroke:"#000","stroke-width":2.6});
    
    
  });
}
function yTicks(parent,values,yf,left,len,labelX,offset){
  values.forEach(function(v){
    const l=mk("line",parent,{x1:left,x2:left+len,y1:yf(v),y2:yf(v),stroke:"#000","stroke-width":2.6});
    
    
    label(parent,"y-tick-label",String(v),labelX,yf(v)+offset,43,"end");
  });
}
function dotted(parent,name,x1,y1,x2,y2){
  const l=mk("line",parent,{x1:x1,y1:y1,x2:x2,y2:y2,stroke:"#000","stroke-width":2,"stroke-dasharray":"2 9.3"});
  
  
}
function yTitle(parent,name,str,x,yc){
  label(parent,name,str,x,yc,49.5,"middle",{transform:"rotate(-90 "+x+" "+yc+")"});
}

const defs=mk("defs",root,{});
clipRect(defs,"clipA",183,53,1599,760);
clipRect(defs,"clipB",181.5,817,1597.5,1525);
clipRect(defs,"clipC",181,1581,1597,2285.6);

/* ---------- Panel A ---------- */
const gA=mk("g",root,{});


dotted(gA,"july-marker-line-a",1223,53,1220,760);
dotted(gA,"october-marker-line-a",1510,53,1507,760);
series(gA,"ambient-snow-line-a",blackDaysA,blackValsA,xA,yA,"#000",4.4,null,"clipA");
series(gA,"snow-addition-line-a",grayDaysA,grayValsA,xA,yA,"#c0c0c0",4.6,null,"clipA");
series(gA,"ambient-temperature-line-a",tealDaysA,tealValsA,xA,yA,"#008080",4.4,null,"clipA");
series(gA,"warming-otc-line-a",redDaysA,redValsA,xA,yA,"#ff0000",5.6,"24 13","clipA");
series(gA,"air-temperature-2m-line",airDaysA,airValsA,xA,yA,"#3399ff",1.7,null,"clipA");
frame(gA,"panel-a-frame",183,53,1599,760);
xTicks(gA,tickDays,xA,760,16);
yTicks(gA,ticksA,yA,183,16,158,14);
yTitle(gA,"y-axis-title-a","Canopy air temperature (°C)",47,407);
label(gA,"panel-label-a","A",5,49,60,"start",{"font-weight":"bold"});

/* legend */
const legend=mk("g",gA,{});


function legendEntry(name,str,baseline,y,color,width,x1,x2,dash){
  const a={x1:x1,x2:x2,y1:y,y2:y,stroke:color,"stroke-width":width,"stroke-linecap":"round"};
  if(dash){a["stroke-dasharray"]=dash;}
  const l=mk("line",legend,a);
  
  
  label(legend,name+"-label",str,539,baseline,37.5,"start");
}
legendEntry("legend-ambient-snow","Ambient snow",98,85,"#000",2.8,437,498);
legendEntry("legend-snow-addition","Snow addition",139,126,"#c0c0c0",4,437,498);
legendEntry("legend-ambient-temperature","Ambient temperature",181,167.5,"#008080",3.2,434,500);
legendEntry("legend-warming-otc","Warming by OTCs",222,209.4,"#ff0000",4.4,435,500,"28 11");
legendEntry("legend-air-temperature-2m","Air temperature 2 m",263,251,"#66b0ff",1,434,500);

/* ---------- Panel B ---------- */
const gB=mk("g",root,{});


dotted(gB,"july-marker-line-b",1221,815,1218,1525);
dotted(gB,"october-marker-line-b",1507,815,1505,1525);
series(gB,"ambient-snow-line-b",blackDaysB,blackValsB,xB,yB,"#000",3.6,null,"clipB");
series(gB,"snow-addition-line-b",grayDaysB,grayValsB,xB,yB,"#c0c0c0",3.8,null,"clipB");
series(gB,"ambient-temperature-line-b",tealDaysB,tealValsB,xB,yB,"#008080",3.6,null,"clipB");
series(gB,"warming-otc-line-b",redDaysB,redValsB,xB,yB,"#ff0000",4.3,"20 13","clipB");
frame(gB,"panel-b-frame",181.5,817,1597.5,1525);
xTicks(gB,tickDays,xB,1525,16);
yTicks(gB,ticksB,yB,181.5,16,158,13);
yTitle(gB,"y-axis-title-b","Soil temperature 5 cm (°C)",49,1170);
label(gB,"panel-label-b","B",6,798,60,"start",{"font-weight":"bold"});

/* ---------- Panel C ---------- */
const gC=mk("g",root,{});


dotted(gC,"july-marker-line-c",1212.5,1578,1217.6,2285);
dotted(gC,"october-marker-line-c",1499,1578,1504,2285);
series(gC,"ambient-snow-line-c",blackDaysC,blackValsC,xC,yC,"#000",3.6,null,"clipC");
series(gC,"snow-addition-line-c",grayDaysC,grayValsC,xC,yC,"#c0c0c0",3.8,null,"clipC");
series(gC,"ambient-temperature-line-c",tealDaysC,tealValsC,xC,yC,"#008080",3.6,null,"clipC");
series(gC,"warming-otc-line-c",redDaysC,redValsC,xC,yC,"#ff0000",3.1,"27 11","clipC");
rainDays.forEach(function(d,i){
  const h=yC(rainVals[i]);
  const b=mk("path",gC,{d:"M"+(xC(d)-3.3).toFixed(1)+" "+yC(0)+"V"+(h+2).toFixed(1)+"Q"+xC(d).toFixed(1)+" "+(h-2).toFixed(1)+" "+(xC(d)+3.3).toFixed(1)+" "+(h+2).toFixed(1)+"V"+yC(0)+"Z",fill:"#0000ff"});
  
  
});
frame(gC,"panel-c-frame",181,1581,1597,2285.6);
xTicks(gC,tickDaysC,xC,2285.6,15);
yTicks(gC,ticksC,yC,181,16,156,14.5);
ticksC.forEach(function(v){
  const l=mk("line",gC,{x1:1597,x2:1581,y1:yC(v),y2:yC(v),stroke:"#000","stroke-width":2.6});
  
  
  label(gC,"right-tick-label",String(v),1621,yC(v)+14.5,43,"start");
});
yTitle(gC,"y-axis-title-c","Soil moisture (% Vol.)",49,1933);
yTitle(gC,"right-axis-title","Precipitation (mm)",1779,1932);
label(gC,"panel-label-c","C",5,1575,60,"start",{"font-weight":"bold"});

const rainSwatch=mk("rect",gC,{x:228,y:2062,width:65,height:17.5,rx:4,fill:"#0000ff"});


label(gC,"precipitation-legend-label","Precipitation",360,2086,45.5,"start");

monthNames.forEach(function(m,i){
  label(gC,"month-label",m,xC(monthDays[i]-4),2343.6,41,"middle");
});
yearLabels.forEach(function(y,i){
  label(gC,"year-label",y,xC(yearDays[i]),2452.7,41,"middle");
});
</script>
</body>
</html>
